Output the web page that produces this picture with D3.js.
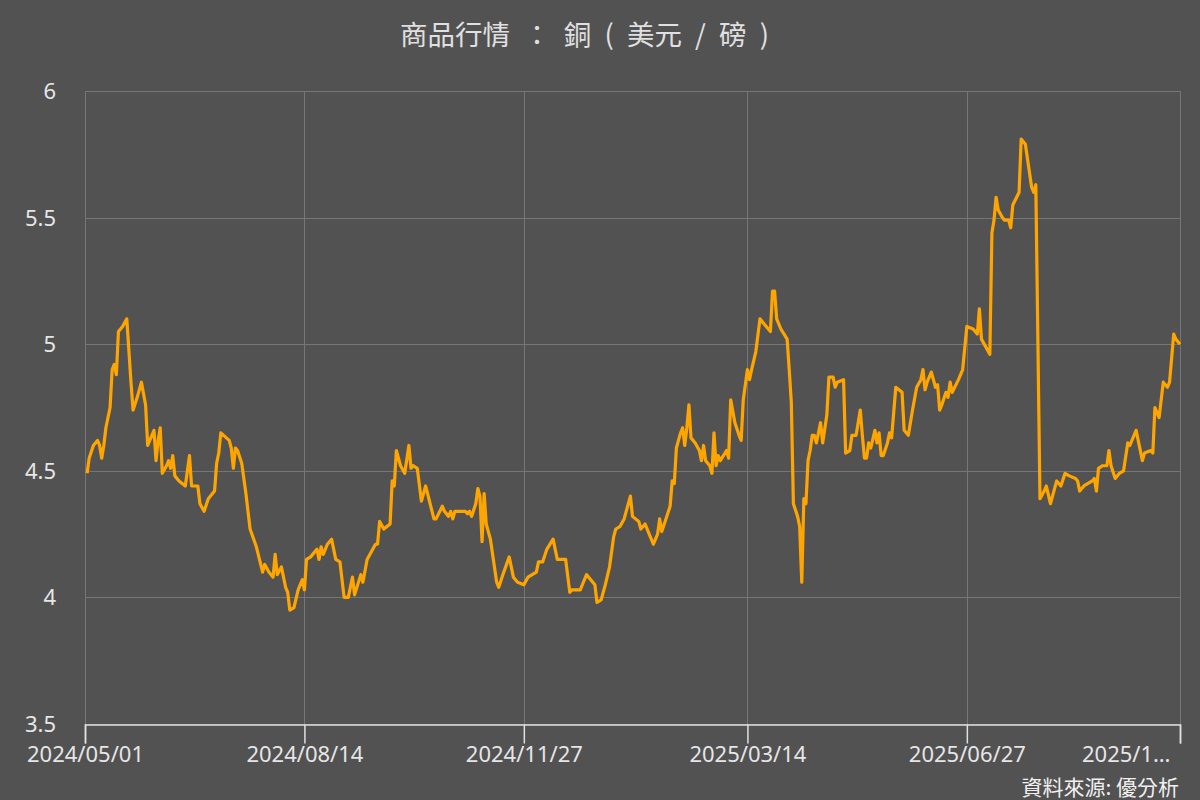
<!DOCTYPE html>
<html><head><meta charset="utf-8">
<script src="https://cdn.jsdelivr.net/npm/d3@7/dist/d3.min.js"></script>
<style>
html,body{margin:0;padding:0;background:#525252;}
svg{display:block;}
</style></head>
<body>
<svg id="chart" width="1200" height="800"></svg>
<script>
const title = "商品行情 ： 銅 ( 美元 / 磅 )";
const credit = "資料來源: 優分析";
const yTicks = [3.5, 4, 4.5, 5, 5.5, 6];
const xTickDates = ["2024-05-01","2024-08-14","2024-11-27","2025-03-14","2025-06-27","2025-10-07"];
const xDomain = ["2024-05-01","2025-10-07"];

const dates = [
"2024-05-02","2024-05-03","2024-05-05","2024-05-07","2024-05-08","2024-05-09","2024-05-10","2024-05-11","2024-05-13","2024-05-14",
"2024-05-15","2024-05-16","2024-05-17","2024-05-19","2024-05-21","2024-05-23","2024-05-24","2024-05-26","2024-05-28","2024-05-30",
"2024-05-31","2024-06-02","2024-06-03","2024-06-04","2024-06-05","2024-06-06","2024-06-07","2024-06-09","2024-06-10","2024-06-11",
"2024-06-12","2024-06-13","2024-06-15","2024-06-18","2024-06-20","2024-06-21","2024-06-24","2024-06-25","2024-06-27","2024-06-29",
"2024-07-02","2024-07-03","2024-07-04","2024-07-05","2024-07-09","2024-07-10","2024-07-11","2024-07-12","2024-07-13","2024-07-15",
"2024-07-17","2024-07-19","2024-07-22","2024-07-25","2024-07-26","2024-07-28","2024-07-30","2024-07-31","2024-08-01","2024-08-03",
"2024-08-05","2024-08-06","2024-08-07","2024-08-09","2024-08-11","2024-08-13","2024-08-14","2024-08-15","2024-08-17","2024-08-20",
"2024-08-21","2024-08-22","2024-08-23","2024-08-25","2024-08-27","2024-08-29","2024-08-31","2024-09-02","2024-09-04","2024-09-06",
"2024-09-07","2024-09-10","2024-09-11","2024-09-13","2024-09-17","2024-09-18","2024-09-19","2024-09-21","2024-09-24","2024-09-25",
"2024-09-26","2024-09-27","2024-09-29","2024-10-01","2024-10-03","2024-10-04","2024-10-05","2024-10-07","2024-10-09","2024-10-11",
"2024-10-15","2024-10-16","2024-10-19","2024-10-20","2024-10-22","2024-10-23","2024-10-24","2024-10-25","2024-10-30","2024-10-31",
"2024-11-01","2024-11-02","2024-11-04","2024-11-05","2024-11-06","2024-11-07","2024-11-08","2024-11-09","2024-11-11","2024-11-14",
"2024-11-15","2024-11-17","2024-11-20","2024-11-22","2024-11-24","2024-11-27","2024-11-29","2024-12-01","2024-12-03","2024-12-04",
"2024-12-06","2024-12-08","2024-12-11","2024-12-13","2024-12-17","2024-12-19","2024-12-20","2024-12-24","2024-12-25","2024-12-27",
"2024-12-29","2024-12-31","2025-01-01","2025-01-03","2025-01-05","2025-01-07","2025-01-09","2025-01-10","2025-01-12","2025-01-14",
"2025-01-17","2025-01-18","2025-01-21","2025-01-22","2025-01-24","2025-01-26","2025-01-28","2025-01-30","2025-01-31","2025-02-01",
"2025-02-03","2025-02-05","2025-02-06","2025-02-07","2025-02-08","2025-02-10","2025-02-11","2025-02-12","2025-02-13","2025-02-14",
"2025-02-15","2025-02-17","2025-02-19","2025-02-20","2025-02-21","2025-02-22","2025-02-24","2025-02-25","2025-02-26","2025-02-27",
"2025-02-28","2025-03-01","2025-03-04","2025-03-05","2025-03-06","2025-03-08","2025-03-10","2025-03-11","2025-03-12","2025-03-14",
"2025-03-15","2025-03-16","2025-03-18","2025-03-20","2025-03-22","2025-03-25","2025-03-26","2025-03-27","2025-03-28","2025-03-30",
"2025-04-02","2025-04-03","2025-04-04","2025-04-05","2025-04-07","2025-04-08","2025-04-09","2025-04-10","2025-04-11","2025-04-12",
"2025-04-13","2025-04-14","2025-04-15","2025-04-16","2025-04-18","2025-04-19","2025-04-21","2025-04-22","2025-04-24","2025-04-25",
"2025-04-26","2025-04-29","2025-04-30","2025-05-02","2025-05-03","2025-05-05","2025-05-07","2025-05-08","2025-05-09","2025-05-10",
"2025-05-11","2025-05-12","2025-05-14","2025-05-15","2025-05-16","2025-05-17","2025-05-18","2025-05-20","2025-05-21","2025-05-22",
"2025-05-24","2025-05-27","2025-05-28","2025-05-30","2025-06-01","2025-06-03","2025-06-05","2025-06-06","2025-06-07","2025-06-08",
"2025-06-10","2025-06-12","2025-06-13","2025-06-14","2025-06-15","2025-06-17","2025-06-18","2025-06-19","2025-06-20","2025-06-23",
"2025-06-25","2025-06-27","2025-06-30","2025-07-02","2025-07-03","2025-07-04","2025-07-08","2025-07-09","2025-07-10","2025-07-11",
"2025-07-12","2025-07-14","2025-07-15","2025-07-17","2025-07-18","2025-07-19","2025-07-22","2025-07-23","2025-07-25","2025-07-28",
"2025-07-29","2025-07-30","2025-08-01","2025-08-03","2025-08-04","2025-08-06","2025-08-07","2025-08-09","2025-08-11","2025-08-13",
"2025-08-15","2025-08-18","2025-08-19","2025-08-20","2025-08-22","2025-08-26","2025-08-27","2025-08-28","2025-08-29","2025-08-31",
"2025-09-02","2025-09-03","2025-09-04","2025-09-06","2025-09-08","2025-09-10","2025-09-12","2025-09-13","2025-09-16","2025-09-17",
"2025-09-19","2025-09-20","2025-09-23","2025-09-24","2025-09-25","2025-09-27","2025-09-29","2025-10-01","2025-10-02","2025-10-04",
"2025-10-05","2025-10-07"
];
const prices = [
4.49,4.55,4.60,4.62,4.60,4.55,4.60,4.67,4.75,4.90,
4.92,4.88,5.05,5.07,5.10,4.85,4.74,4.79,4.85,4.76,
4.60,4.64,4.66,4.54,4.62,4.67,4.49,4.52,4.54,4.51,
4.56,4.48,4.46,4.44,4.56,4.44,4.44,4.37,4.34,4.39,
4.42,4.53,4.57,4.65,4.62,4.59,4.51,4.59,4.58,4.53,
4.41,4.27,4.20,4.10,4.13,4.10,4.08,4.17,4.09,4.12,
4.04,4.02,3.95,3.96,4.03,4.07,4.03,4.15,4.16,4.19,
4.15,4.20,4.17,4.21,4.23,4.15,4.14,4.00,4.00,4.08,
4.01,4.09,4.06,4.15,4.21,4.21,4.30,4.27,4.29,4.46,
4.44,4.58,4.52,4.49,4.60,4.51,4.52,4.51,4.38,4.44,
4.31,4.31,4.36,4.34,4.32,4.34,4.31,4.34,4.34,4.33,
4.34,4.32,4.37,4.43,4.40,4.22,4.41,4.29,4.23,4.06,
4.04,4.09,4.16,4.08,4.06,4.05,4.08,4.09,4.10,4.14,
4.14,4.19,4.23,4.15,4.15,4.02,4.03,4.03,4.05,4.09,
4.07,4.05,3.98,3.99,4.05,4.12,4.24,4.27,4.28,4.31,
4.40,4.32,4.30,4.27,4.29,4.25,4.21,4.25,4.31,4.26,
4.31,4.36,4.46,4.45,4.59,4.65,4.67,4.60,4.67,4.76,
4.63,4.61,4.58,4.54,4.60,4.54,4.52,4.49,4.65,4.52,
4.56,4.54,4.58,4.55,4.78,4.69,4.64,4.62,4.78,4.90,
4.86,4.90,4.97,5.10,5.08,5.05,5.21,5.21,5.10,5.06,
5.02,4.90,4.77,4.37,4.32,4.28,4.06,4.39,4.37,4.54,
4.58,4.64,4.64,4.61,4.69,4.61,4.72,4.87,4.87,4.83,
4.85,4.86,4.57,4.58,4.64,4.64,4.74,4.64,4.55,4.55,
4.61,4.59,4.66,4.61,4.65,4.56,4.56,4.61,4.65,4.63,
4.83,4.81,4.66,4.64,4.74,4.83,4.86,4.90,4.82,4.85,
4.89,4.83,4.84,4.74,4.76,4.81,4.79,4.85,4.81,4.86,
4.90,5.07,5.06,5.04,5.14,5.02,4.96,5.44,5.49,5.58,
5.53,5.50,5.49,5.49,5.46,5.55,5.60,5.81,5.79,5.62,
5.60,5.63,4.39,4.42,4.44,4.37,4.40,4.46,4.44,4.49,
4.48,4.47,4.46,4.42,4.44,4.46,4.47,4.42,4.51,4.52,
4.52,4.58,4.52,4.47,4.49,4.50,4.61,4.60,4.66,4.62,
4.54,4.57,4.58,4.57,4.75,4.71,4.85,4.83,4.85,5.04,
5.02,5.00
];

const parse = d3.timeParse("%Y-%m-%d");
const fmt = d3.timeFormat("%Y/%m/%d");
const data = dates.map((d, i) => ({ date: parse(d), value: prices[i] }));

const margin = { left: 85, right: 20, top: 91, bottom: 76 };
const W = 1200, H = 800;
const svg = d3.select("#chart");
svg.append("rect").attr("width", W).attr("height", H).attr("fill", "#525252");

const x = d3.scaleTime().domain(xDomain.map(parse)).range([margin.left, W - margin.right]);
const y = d3.scaleLinear().domain([3.5, 6]).range([H - margin.bottom, margin.top]);

const labelFont = "'Noto Sans', 'DejaVu Sans', sans-serif";

// horizontal grid
svg.append("g").selectAll("line").data(yTicks).join("line")
  .attr("x1", margin.left).attr("x2", W - margin.right)
  .attr("y1", d => Math.round(y(d)) + 0.5).attr("y2", d => Math.round(y(d)) + 0.5)
  .attr("stroke", "#767676").attr("stroke-width", 1);

// vertical grid
const xt = xTickDates.map(parse);
svg.append("g").selectAll("line").data(xt).join("line")
  .attr("x1", d => Math.round(x(d)) + 0.5).attr("x2", d => Math.round(x(d)) + 0.5)
  .attr("y1", margin.top).attr("y2", H - margin.bottom)
  .attr("stroke", "#767676").attr("stroke-width", 1);

// y labels
svg.append("g").selectAll("text").data(yTicks).join("text")
  .attr("x", 56).attr("y", d => y(d))
  .attr("dy", "0.36em")
  .attr("text-anchor", "end")
  .attr("fill", "#e6e6e6")
  .attr("font-family", labelFont)
  .attr("font-size", 22)
  .text(d => d3.format("~g")(d));

// x axis
const xAxis = d3.axisBottom(x).tickValues(xt).tickSize(19).tickPadding(3)
  .tickFormat((d, i) => i === xt.length - 1 ? fmt(d).slice(0, 6) + "…" : fmt(d));
const gx = svg.append("g").attr("transform", `translate(0,${H - margin.bottom + 0.5})`).call(xAxis);
gx.select(".domain").attr("stroke", "#e0e0e0").attr("stroke-width", 1.5);
gx.selectAll(".tick line").attr("stroke", "#e0e0e0").attr("stroke-width", 1.5);
gx.selectAll(".tick text")
  .attr("fill", "#e6e6e6")
  .attr("font-family", labelFont)
  .attr("font-size", 22);
gx.selectAll(".tick").filter((d, i) => i === xt.length - 1).select("text")
  .attr("text-anchor", "end").attr("x", -10);

// line
const line = d3.line().x(d => x(d.date)).y(d => y(d.value));
svg.append("path").datum(data)
  .attr("d", line)
  .attr("fill", "none")
  .attr("stroke", "#FFA500")
  .attr("stroke-width", 3.2)
  .attr("stroke-linejoin", "round");

// title
svg.append("text")
  .attr("x", 400).attr("y", 45)
  .attr("text-anchor", "start")
  .attr("fill", "#e0e0e0")
  .attr("font-family", "'Noto Sans CJK TC', sans-serif")
  .attr("font-size", 27.5)
  .attr("word-spacing", 7)
  .text(title);

// credit
svg.append("text")
  .attr("x", 1179).attr("y", 795)
  .attr("text-anchor", "end")
  .attr("fill", "#f0f0f0")
  .attr("font-family", "'Noto Sans CJK TC', sans-serif")
  .attr("font-size", 21)
  .text(credit);
</script>
</body></html>
